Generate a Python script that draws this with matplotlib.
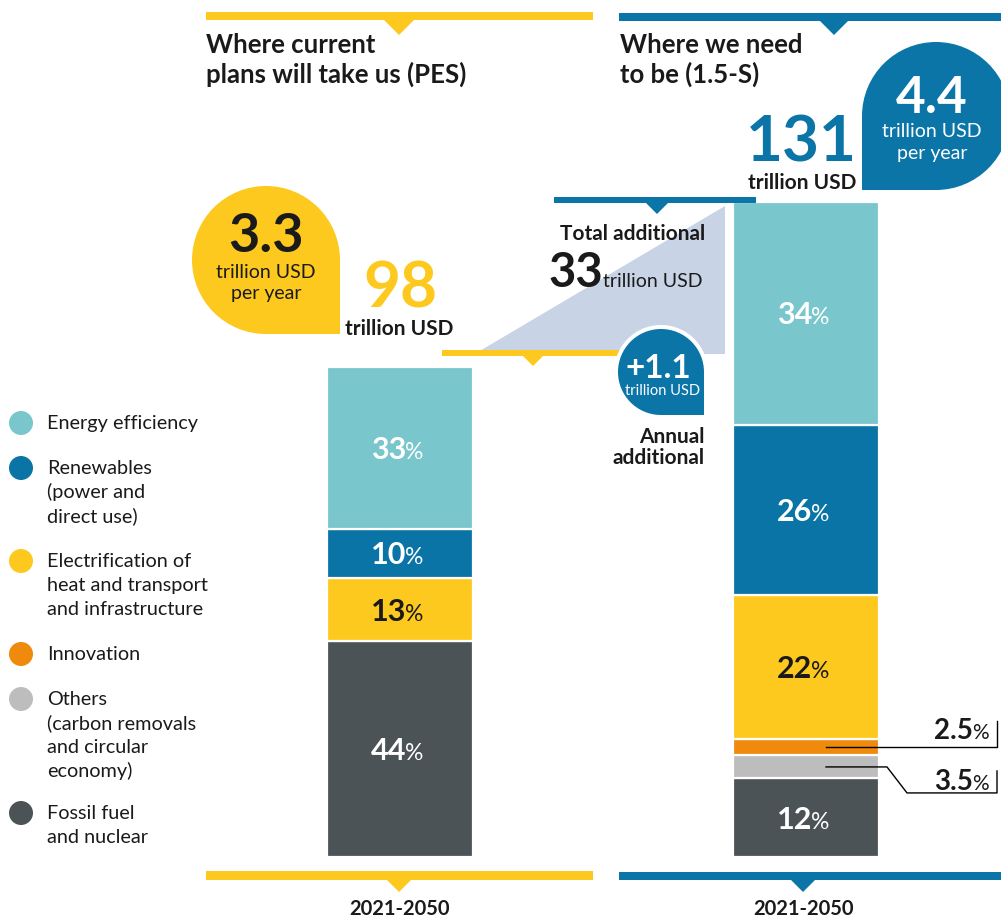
import matplotlib
matplotlib.use('Agg')
import matplotlib.pyplot as plt
from matplotlib.patches import Circle, Rectangle, Polygon

plt.rcParams['font.family'] = ['Lato', 'DejaVu Sans']

# data
categories = ['Energy efficiency',
              'Renewables\n(power and\ndirect use)',
              'Electrification of\nheat and transport\nand infrastructure',
              'Innovation',
              'Others\n(carbon removals\nand circular\neconomy)',
              'Fossil fuel\nand nuclear']
colors = ['#79c6cc', '#0a74a6', '#fdc91e', '#ef8a0c', '#bdbdbd', '#4c5357']
totals = [98, 131]          # trillion USD, 2021-2050
per_year = [3.3, 4.4]       # trillion USD per year
pes_share = [33, 10, 13, 0, 0, 44]
s15_share = [34, 26, 22, 2.5, 3.5, 12]
extra_total = 33
extra_annual = 1.1
period = '2021-2050'
titles = ['Where current\nplans will take us (PES)', 'Where we need\nto be (1.5-S)']

YEL = '#fdc91e'
BLUE = '#0b75a7'
INK = '#1a1a1a'

fig = plt.figure(figsize=(10.01, 9.18), dpi=100)
# overlay in pixel units
ax = fig.add_axes([0, 0, 1, 1])
ax.set_xlim(0, 1001)
ax.set_ylim(918, 0)
ax.axis('off')
ax.patch.set_alpha(0)
ax.set_zorder(2)
# bar axes in trillion USD
bx = fig.add_axes([0, 61 / 918, 1, 800 / 918])
bx.set_xlim(0, 1001)
bx.set_ylim(0, 160)
bx.axis('off')
bx.set_zorder(1)


def to_px(x, y):
    return ax.transData.inverted().transform(bx.transData.transform((x, y)))


def pct(x, y, val, color, size):
    cap = 0.72 * size * 100 / 72
    base = y + cap / 2
    ax.text(x, base, f'{val:g}', ha='right', va='baseline', fontsize=size,
            fontweight='bold', color=color)
    ax.text(x - 1, base, '%', ha='left', va='baseline', fontsize=size * 0.75,
            color=color)


def drop(cx, cy, r, corner, color, outline=0):
    for rr, c in ([(r + outline, 'white')] if outline else []) + [(r, color)]:
        ax.add_patch(Circle((cx, cy), rr, color=c, lw=0))
        dx = 0 if corner == 'br' else -rr
        ax.add_patch(Rectangle((cx + dx, cy), rr, rr, color=c, lw=0))


def header(x0, x1, y0, h, tip_x, tip_h, color):
    ax.add_patch(Rectangle((x0, y0), x1 - x0, h, color=color, lw=0))
    ax.add_patch(Polygon([(tip_x - tip_h, y0 + h), (tip_x + tip_h, y0 + h),
                          (tip_x, y0 + h + tip_h)], color=color, lw=0))


# bars
xpos = [400, 806]
small = {}
for xp, tot, sh in zip(xpos, totals, [pes_share, s15_share]):
    bottom = 0
    for i in reversed(range(len(categories))):
        v = tot * sh[i] / 100
        if v == 0:
            continue
        bx.bar(xp, v, width=146, bottom=bottom, color=colors[i],
               edgecolor='white', linewidth=1.6)
        px, py = to_px(xp, bottom + v / 2)
        if sh[i] >= 10:
            pct(px + 6, py, sh[i], INK if i == 2 else 'white', 22)
        else:
            small[i] = (px, py, sh[i])
        bottom += v

# callouts for the thin segments
px, py, val = small[3]
ax.plot([px + 20, 997, 997], [py, py, py - 26], color='black', lw=1)
pct(973, py - 18, val, INK, 20)
px, py, val = small[4]
ax.plot([px + 20, 887, 907, 997, 997], [py, py, py + 26, py + 26, py + 4],
        color='black', lw=1)
pct(973, py + 13, val, INK, 20)

# headers and footers
header(206, 593, 12, 8, 399, 15, YEL)
header(619, 1001, 13, 8, 834, 14, BLUE)
header(206, 593, 871, 9, 399, 12, YEL)
header(619, 1001, 872, 8, 803, 12, BLUE)
for x0, t in zip([206, 620], titles):
    for k, line in enumerate(t.split('\n')):
        ax.text(x0, 53 + 30 * k, line, ha='left', va='baseline', fontsize=18.5,
                fontweight='bold', color=INK)
for xc in [399, 803]:
    ax.text(xc, 915, period, ha='center', va='baseline', fontsize=14.5,
            fontweight='bold', color=INK)

# additional investment wedge
ax.add_patch(Polygon([(478, 352), (725, 206), (725, 354), (478, 354)],
                     color='#c9d3e6', lw=0))
header(554, 756, 197, 6, 657, 11, BLUE)
header(442, 640, 350, 6, 533, 10, YEL)
ax.text(705, 240, 'Total additional', ha='right', va='baseline', fontsize=15,
        fontweight='bold', color=INK)
ax.text(548, 287, f'{extra_total}', ha='left', va='baseline', fontsize=34,
        fontweight='bold', color=INK)
ax.text(603, 287, 'trillion USD', ha='left', va='baseline', fontsize=14,
        color=INK)
drop(661, 372, 43, 'br', BLUE, outline=4)
ax.text(658, 378, f'+{extra_annual:g}', ha='center', va='baseline', fontsize=24,
        fontweight='bold', color='white')
ax.text(663, 395, 'trillion USD', ha='center', va='baseline', fontsize=10.5,
        color='white')
ax.text(705, 443, 'Annual', ha='right', va='baseline', fontsize=15,
        fontweight='bold', color=INK)
ax.text(705, 464, 'additional', ha='right', va='baseline', fontsize=15,
        fontweight='bold', color=INK)

# totals
drop(266, 260, 74, 'br', YEL)
ax.text(266, 252, f'{per_year[0]:g}', ha='center', va='baseline', fontsize=39,
        fontweight='bold', color=INK)
ax.text(266, 278, 'trillion USD', ha='center', va='baseline', fontsize=14,
        color=INK)
ax.text(266, 299, 'per year', ha='center', va='baseline', fontsize=14,
        color=INK)
ax.text(400, 308, f'{totals[0]}', ha='center', va='baseline', fontsize=46,
        fontweight='bold', color=YEL)
ax.text(399, 335, 'trillion USD', ha='center', va='baseline', fontsize=15,
        fontweight='bold', color=INK)

drop(936, 116, 74, 'bl', BLUE)
ax.text(932, 113, f'{per_year[1]:g}', ha='center', va='baseline', fontsize=37,
        fontweight='bold', color='white')
ax.text(932, 137, 'trillion USD', ha='center', va='baseline', fontsize=14,
        color='white')
ax.text(932, 159, 'per year', ha='center', va='baseline', fontsize=14,
        color='white')
ax.text(801, 162, f'{totals[1]}', ha='center', va='baseline', fontsize=46,
        fontweight='bold', color=BLUE)
ax.text(802, 189, 'trillion USD', ha='center', va='baseline', fontsize=15,
        fontweight='bold', color=INK)

# legend
leg_y = [423, 468, 561, 654, 699, 813]
for c, lab, y in zip(colors, categories, leg_y):
    ax.add_patch(Circle((21, y), 12, color=c, lw=0))
    for k, line in enumerate(lab.split('\n')):
        ax.text(47, y + 6 + 24 * k, line, ha='left', va='baseline',
                fontsize=14.3, color=INK)

fig.savefig('out.png', dpi=100)
